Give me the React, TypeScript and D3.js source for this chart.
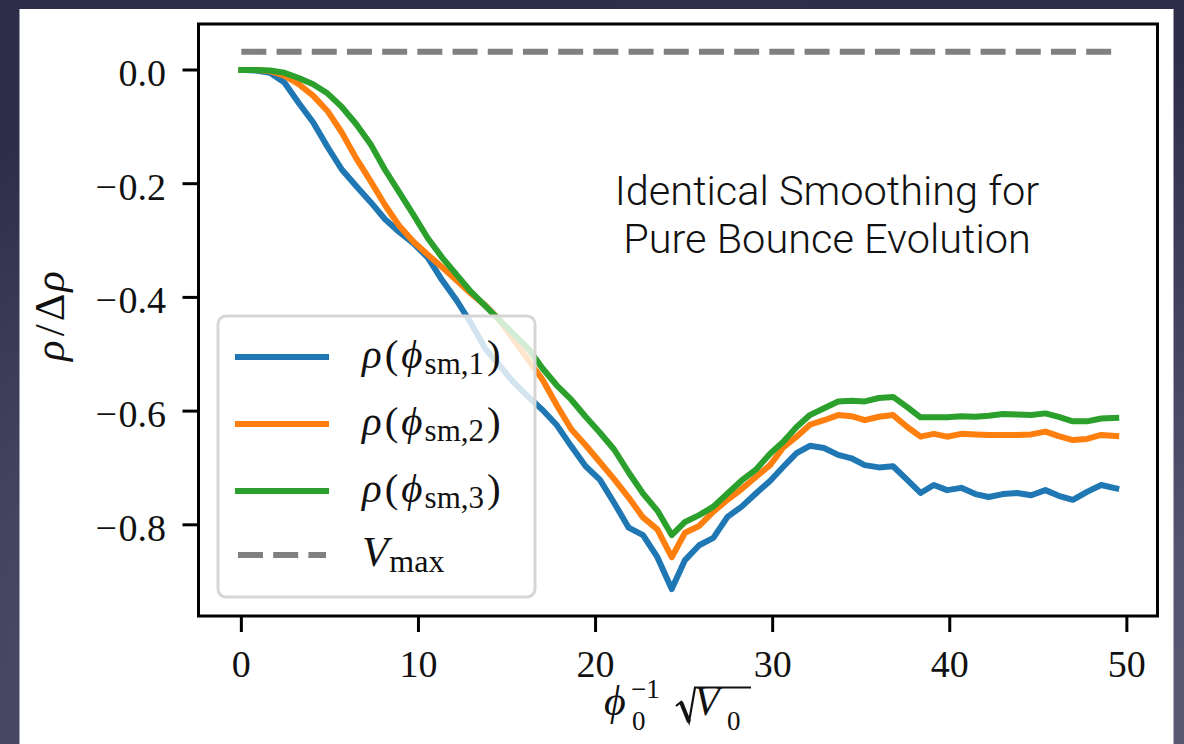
import React from "react";
import * as d3 from "d3";

// Field-space coordinate phi_0^{-1} sqrt(V_0)
const xs = [
  0, 0.81, 1.62, 2.43, 3.24, 4.05, 4.86, 5.67, 6.48, 7.29, 8.1, 8.91, 9.72, 10.53, 11.34,
  12.15, 12.96, 13.77, 14.58, 15.39, 16.2, 17.01, 17.82, 18.63, 19.44, 20.25, 21.06, 21.87,
  22.68, 23.49, 24.3, 25.05, 25.85, 26.65, 27.45, 28.25, 29.05, 29.85, 30.6, 31.35, 32.1,
  32.9, 33.7, 34.45, 35.2, 36.0, 36.8, 37.6, 38.35, 39.1, 39.85, 40.65, 41.45, 42.2, 43.0,
  43.8, 44.6, 45.4, 46.15, 46.95, 47.75, 48.55, 49.4,
];

// rho / Delta rho for each smoothing
const rhoSm1 = [
  0, -0.001, -0.005, -0.022, -0.058, -0.092, -0.135, -0.175, -0.204, -0.232, -0.262, -0.285,
  -0.305, -0.33, -0.37, -0.405, -0.445, -0.49, -0.52, -0.55, -0.575, -0.598, -0.625, -0.662,
  -0.697, -0.721, -0.762, -0.805, -0.818, -0.857, -0.913,
  -0.862, -0.836, -0.823, -0.786, -0.768, -0.745, -0.723, -0.698, -0.674, -0.661, -0.665,
  -0.677, -0.683, -0.695, -0.699, -0.697, -0.721, -0.744, -0.73, -0.739, -0.735, -0.746,
  -0.751, -0.746, -0.744, -0.748, -0.739, -0.749, -0.756, -0.742, -0.73, -0.736,
];
const rhoSm2 = [
  0, 0, -0.002, -0.01, -0.025, -0.045, -0.072, -0.11, -0.155, -0.195, -0.237, -0.274, -0.302,
  -0.325, -0.347, -0.37, -0.393, -0.414, -0.44, -0.475, -0.51, -0.545, -0.59, -0.632, -0.66,
  -0.69, -0.72, -0.752, -0.787, -0.808, -0.857,
  -0.814, -0.802, -0.777, -0.756, -0.737, -0.716, -0.695, -0.664, -0.645, -0.624, -0.616,
  -0.607, -0.609, -0.616, -0.61, -0.607, -0.628, -0.645, -0.64, -0.645, -0.64, -0.641,
  -0.642, -0.642, -0.642, -0.641, -0.636, -0.644, -0.651, -0.649, -0.642, -0.644,
];
const rhoSm3 = [
  0, 0, -0.001, -0.005, -0.014, -0.025, -0.041, -0.065, -0.095, -0.13, -0.175, -0.215, -0.255,
  -0.296, -0.33, -0.36, -0.39, -0.415, -0.44, -0.465, -0.49, -0.525, -0.555, -0.58, -0.61,
  -0.638, -0.668, -0.708, -0.745, -0.775, -0.818,
  -0.795, -0.783, -0.768, -0.745, -0.722, -0.703, -0.675, -0.654, -0.628, -0.607, -0.595,
  -0.583, -0.582, -0.583, -0.577, -0.575, -0.593, -0.611, -0.611, -0.611, -0.609, -0.61,
  -0.608, -0.605, -0.606, -0.607, -0.604, -0.61, -0.618, -0.618, -0.613, -0.612,
];

const vMax = 0.032;
const xTicks = [0, 10, 20, 30, 40, 50];
const yTicks = [0, -0.2, -0.4, -0.6, -0.8];
const seriesSubs = ["sm,1", "sm,2", "sm,3"];
const seriesColors = ["#1f77b4", "#ff7f0e", "#2ca02c"];
const noteLines = ["Identical Smoothing for", "Pure Bounce Evolution"];

const W = 1184;
const H = 744;
const SERIF = "'Liberation Serif', 'DejaVu Serif', serif";
const SANS = "Roboto, 'Open Sans', Lato, sans-serif";

export default function App() {
  const frame = { left: 198.5, right: 1157.5, top: 24, bottom: 616 };
  const x = d3.scaleLinear().domain([-2.42, 51.73]).range([frame.left, frame.right]);
  const y = d3.scaleLinear().domain([-0.9604, 0.0809]).range([frame.bottom, frame.top]);
  const line = d3
    .line<number>()
    .x((_, i) => x(xs[i]))
    .y((d) => y(d));
  const fmt = d3.format(".1f");
  const series = [rhoSm1, rhoSm2, rhoSm3];
  const lw = 6;

  // legend geometry
  const lg = { x: 218, y: 316, w: 317, h: 281 };
  const rowY = [357, 424, 491, 555];
  const hx0 = 238;
  const hx1 = 326;
  const tx = 362;

  return (
    <svg
      width={W}
      height={H}
      style={{ position: "absolute", left: 0, top: 0, display: "block" }}
    >
      <defs>
        <radialGradient id="bg" cx="60%" cy="95%" r="95%">
          <stop offset="0%" stopColor="#7c7c94" />
          <stop offset="55%" stopColor="#4c4c68" />
          <stop offset="100%" stopColor="#2e2e4a" />
        </radialGradient>
        <clipPath id="plotClip">
          <rect
            x={frame.left}
            y={frame.top}
            width={frame.right - frame.left}
            height={frame.bottom - frame.top}
          />
        </clipPath>
      </defs>
      <rect x={0} y={0} width={W} height={H} fill="url(#bg)" />
      <rect x={19.5} y={9} width={1154} height={H - 9} fill="#ffffff" />

      {/* data */}
      <g clipPath="url(#plotClip)">
        <line
          x1={x(xs[0])}
          x2={x(xs[xs.length - 1])}
          y1={y(vMax)}
          y2={y(vMax)}
          stroke="#808080"
          strokeWidth={lw}
          strokeDasharray="25 10.2"
        />
        {series.map((s, k) => (
          <path
            key={k}
            d={line(s) || ""}
            fill="none"
            stroke={seriesColors[k]}
            strokeWidth={lw}
            strokeLinejoin="round"
            strokeLinecap="square"
          />
        ))}
      </g>

      {/* annotation */}
      {noteLines.map((t, i) => (
        <text
          key={t}
          x={827}
          y={205 + i * 48}
          textAnchor="middle"
          fontFamily={SANS}
          fontWeight={300}
          fontSize={41.5}
          fill="#111"
        >
          {t}
        </text>
      ))}

      {/* frame */}
      <rect
        x={frame.left}
        y={frame.top}
        width={frame.right - frame.left}
        height={frame.bottom - frame.top}
        fill="none"
        stroke="#000"
        strokeWidth={3}
      />

      {/* x axis */}
      {xTicks.map((t) => (
        <g key={t}>
          <line
            x1={x(t)}
            x2={x(t)}
            y1={frame.bottom}
            y2={frame.bottom + 16}
            stroke="#000"
            strokeWidth={3}
          />
          <text
            x={x(t)}
            y={677}
            textAnchor="middle"
            fontFamily={SERIF}
            fontSize={38}
            fill="#111"
          >
            {t}
          </text>
        </g>
      ))}

      {/* y axis */}
      {yTicks.map((t) => {
        const s = fmt(t);
        const neg = s.startsWith("−");
        return (
          <g key={t}>
            <line
              x1={frame.left - 16}
              x2={frame.left}
              y1={y(t)}
              y2={y(t)}
              stroke="#000"
              strokeWidth={3}
            />
            <text
              x={166}
              y={y(t) + 16}
              textAnchor="end"
              fontFamily={SERIF}
              fontSize={38}
              fill="#111"
            >
              {neg ? (
                <>
                  <tspan>−</tspan>
                  <tspan dx={1.5}>{s.slice(1)}</tspan>
                </>
              ) : (
                s
              )}
            </text>
          </g>
        );
      })}

      {/* y label */}
      <text
        transform="translate(64,316) rotate(-90)"
        textAnchor="middle"
        fontFamily={SERIF}
        fontSize={43}
        fill="#111"
      >
        <tspan fontStyle="italic">ρ</tspan>
        <tspan dx={4}>/</tspan>
        <tspan dx={3}>Δ</tspan>
        <tspan fontStyle="italic" dx={2}>ρ</tspan>
      </text>

      {/* x label: phi_0^{-1} sqrt(V_0) */}
      <text fontFamily={SERIF} fill="#111" fontSize={42}>
        <tspan x={604} y={715} fontStyle="italic">ϕ</tspan>
        <tspan x={631} y={698} fontSize={27}>−1</tspan>
        <tspan x={632} y={730} fontSize={27}>0</tspan>
        <tspan x={694} y={715} fontStyle="italic">V</tspan>
        <tspan x={727} y={730} fontSize={27}>0</tspan>
      </text>
      <path
        d="M676,706 L681,702 L689,722 L695,687.5 L751,687.5"
        fill="none"
        stroke="#111"
        strokeWidth={2.2}
        strokeLinejoin="miter"
      />
      <path d="M681,702 L689,722" stroke="#111" strokeWidth={4} />

      {/* legend */}
      <rect
        x={lg.x}
        y={lg.y}
        width={lg.w}
        height={lg.h}
        rx={8}
        ry={8}
        fill="#ffffff"
        fillOpacity={0.8}
        stroke="#d6d6d6"
        strokeWidth={3}
      />
      {seriesSubs.map((sub, k) => (
        <g key={sub}>
          <line
            x1={hx0}
            x2={hx1}
            y1={rowY[k]}
            y2={rowY[k]}
            stroke={seriesColors[k]}
            strokeWidth={lw}
            strokeLinecap="square"
          />
          <text x={tx} y={rowY[k] + 11} fontFamily={SERIF} fontSize={41} fill="#111">
            <tspan fontStyle="italic">ρ</tspan>
            <tspan dx={3}>(</tspan>
            <tspan fontStyle="italic" dx={3}>ϕ</tspan>
            <tspan fontSize={31} dy={6} dx={2}>{sub}</tspan>
            <tspan dy={-6} dx={3}>)</tspan>
          </text>
        </g>
      ))}
      <line
        x1={hx0}
        x2={hx1}
        y1={rowY[3]}
        y2={rowY[3]}
        stroke="#808080"
        strokeWidth={lw}
        strokeDasharray="25 10.2"
      />
      <text x={tx} y={rowY[3] + 11} fontFamily={SERIF} fontSize={43} fill="#111">
        <tspan fontStyle="italic">V</tspan>
        <tspan fontSize={32} dy={6} dx={1}>max</tspan>
      </text>
    </svg>
  );
}
